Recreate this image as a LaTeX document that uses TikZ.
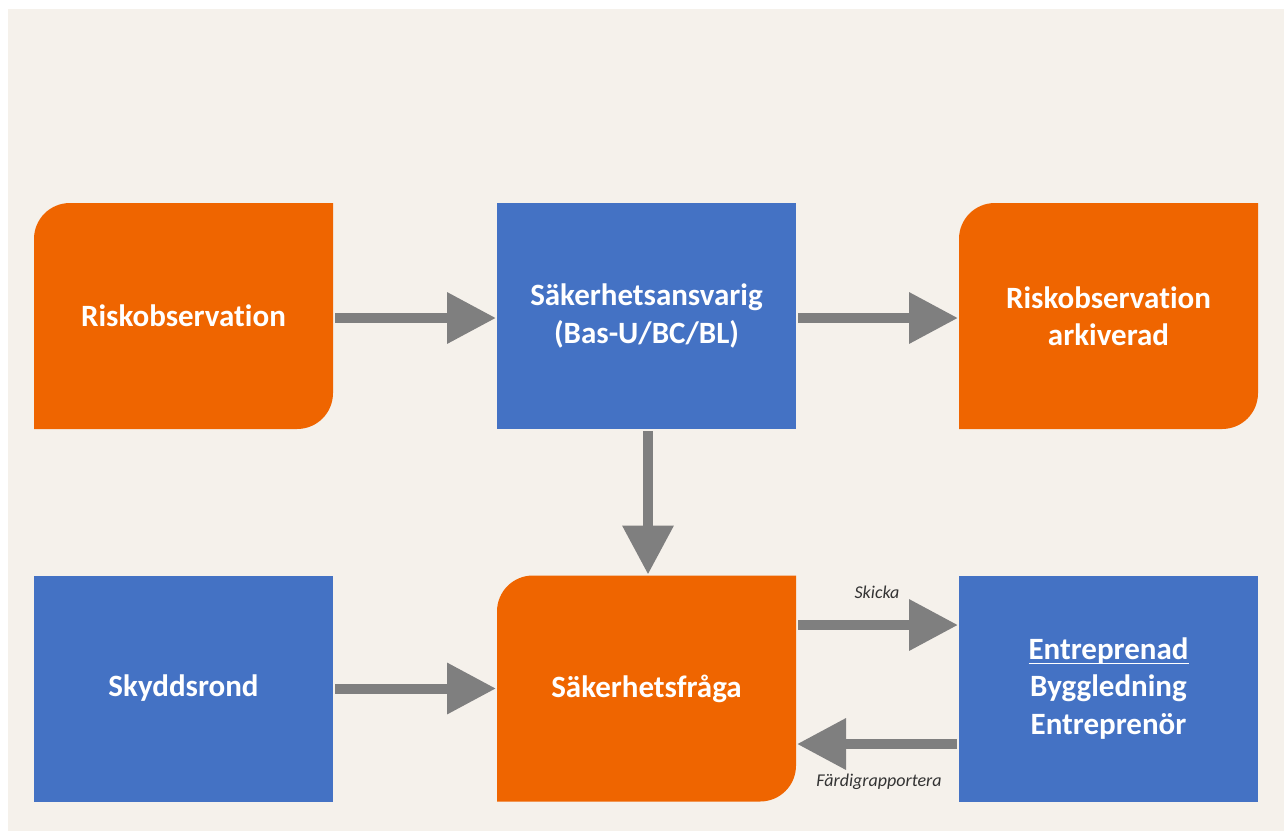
\documentclass[tikz,border=0pt]{standalone}
\usepackage{fontspec}
\setmainfont{Carlito}[Ligatures={NoCommon,NoRare,NoContextual}]
\usetikzlibrary{arrows.meta,calc}
\definecolor{cream}{HTML}{F5F1EB}
\definecolor{oc}{HTML}{EF6500}
\definecolor{bc}{HTML}{4472C4}
\definecolor{ac}{HTML}{7F7F7F}
\newcommand\myul[1]{\setbox0\hbox{#1}\rlap{\rule[-5pt]{\wd0}{1.8pt}}\box0}
\begin{document}
\begin{tikzpicture}[x=1pt,y=-1pt,
  box/.style={minimum width=299pt,minimum height=226pt,inner sep=0pt,outer sep=0pt,
    text=white,font=\fontsize{31}{37.5}\selectfont\bfseries,align=center},
  bluebox/.style={box,fill=bc},
  orangebox/.style={box,fill=cream,path picture={
    \coordinate (pA) at (path picture bounding box.north west);
    \coordinate (pB) at (path picture bounding box.south east);
    \fill[oc] (pA |- pB) -- ($(pA)+(0pt,-36pt)$)
      .. controls ($(pA)+(0pt,-16pt)$) and ($(pA)+(16pt,0pt)$) .. ($(pA)+(36pt,0pt)$)
      -- (pA -| pB) -- ($(pB)+(0pt,36pt)$)
      .. controls ($(pB)+(0pt,16pt)$) and ($(pB)+(-16pt,0pt)$) .. ($(pB)+(-36pt,0pt)$)
      -- cycle;}},
  conn/.style={line width=10pt,color=ac,-{Triangle[length=49pt,width=49pt]},
    shorten <=2pt,shorten >=1pt},
  lbl/.style={font=\fontsize{18}{21}\selectfont\itshape,text=black!80,inner sep=0pt}
]
\useasboundingbox (0,0) rectangle (1284,831);
\fill[white] (0,0) rectangle (1284,831);
\fill[cream] (8,9) rectangle (1284,831);

\node[orangebox] (ro) at (183.5,316) {Riskobservation};
\node[bluebox]   (sa) at (646.5,316) {Säkerhetsansvarig\\(Bas-U/BC/BL)};
\node[orangebox] (ra) at (1108.5,316) {Riskobservation\\arkiverad};
\node[bluebox]   (sk) at (183.5,688.5) {Skyddsrond};
\node[orangebox] (sf) at (646.5,688.5) {Säkerhetsfråga};
\node[bluebox]   (en) at (1108.5,688.5) {\myul{Entreprenad}\\Byggledning\\Entreprenör};

\draw[conn] ([yshift=-2pt]ro.east) -- ([yshift=-2pt]sa.west);
\draw[conn] ([yshift=-2pt]sa.east) -- ([yshift=-2pt]ra.west);
\draw[conn] ([xshift=1.5pt]sa.south) -- ([xshift=1.5pt]sf.north);
\draw[conn] (sk.east) -- (sf.west);
\draw[conn] ([yshift=63.5pt]sf.east) -- ([yshift=63.5pt]en.west);
\draw[conn] ([yshift=-55.5pt]en.west) -- ([yshift=-55.5pt]sf.east);

\node[lbl] (l1) at (877,592) {Skicka};
\node[lbl] (l2) at (879,782) {Färdigrapportera};
\end{tikzpicture}
\end{document}
